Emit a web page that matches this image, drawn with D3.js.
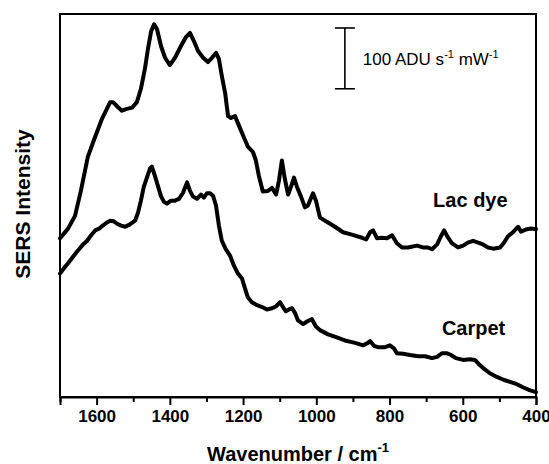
<!DOCTYPE html>
<html>
<head>
<meta charset="utf-8">
<script src="https://cdn.jsdelivr.net/npm/d3@7/dist/d3.min.js"></script>
<style>
  html, body { margin: 0; padding: 0; background: #fff; }
  svg { display: block; }
  text { font-family: "Liberation Sans", Arial, Helvetica, sans-serif; fill: #000; }
</style>
</head>
<body>
<svg id="chart" width="549" height="464"></svg>
<script>
// Wavenumber (cm-1) and SERS intensity (ADU s-1 mW-1, arbitrary offset)
const lacWavenumber = [1700,1678,1659,1643,1624,1604,1585,1563,1555,1542,1531,1517,1503,1490,1479,1468,1460,1451,1443,1435,1424,1413,1400,1386,1370,1356,1345,1334,1323,1309,1296,1285,1274,1266,1258,1249,1241,1233,1222,1211,1200,1187,1173,1165,1157,1146,1132,1121,1110,1102,1094,1086,1077,1069,1061,1053,1042,1031,1023,1009,1001,990,968,949,927,903,875,864,853,845,834,821,807,793,780,766,750,725,709,695,684,670,660,651,640,630,613,599,586,572,558,545,531,517,498,487,477,463,455,449,441,433,425,414,400];
const lacIntensity = [261,277,298,339,395,428,458,485,485,477,471,474,476,485,507,540,572,602,613,605,577,558,546,558,577,592,599,585,569,558,551,558,566,556,528,500,462,459,462,446,430,412,403,389,364,338,339,344,333,356,389,359,333,346,361,346,330,312,315,335,323,295,287,280,271,267,262,259,271,274,261,262,261,266,253,246,246,249,246,246,243,251,264,274,262,253,246,249,254,257,254,251,246,244,246,254,264,271,276,280,272,274,276,277,276];

const carpetWavenumber = [1700,1689,1678,1664,1651,1637,1626,1615,1604,1593,1583,1572,1563,1553,1544,1533,1522,1509,1495,1487,1479,1471,1462,1454,1449,1441,1432,1424,1416,1408,1397,1386,1375,1364,1353,1345,1337,1326,1315,1307,1299,1290,1282,1274,1266,1258,1247,1236,1225,1214,1203,1195,1187,1176,1162,1148,1135,1121,1110,1099,1091,1083,1075,1066,1058,1050,1036,1023,1012,1001,990,968,944,922,894,872,859,853,842,832,812,799,788,780,763,744,722,703,684,670,657,643,632,619,599,580,567,556,545,526,507,487,471,452,436,416,400];
const carpetIntensity = [203,212,220,231,241,251,257,266,274,277,282,287,290,289,285,282,280,284,290,303,323,346,362,376,379,364,346,330,321,318,323,323,326,336,353,339,330,326,333,328,335,335,331,315,282,257,243,233,216,203,195,179,164,156,151,148,144,146,149,156,148,141,144,146,138,126,120,125,128,116,110,103,98,93,89,85,89,92,84,82,82,85,80,72,71,69,67,67,64,66,72,72,69,64,61,62,61,54,48,39,33,28,25,21,16,11,8];

const xTicks = [1600,1400,1200,1000,800,600,400];
const xMinorTicks = [1700,1500,1300,1100,900,700,500];
const seriesLabels = ["Lac dye", "Carpet"];
const scaleBarText = "100 ADU s";
const scaleBarValue = 100;

const W = 549, H = 464;
const mLeft = 60, mRight = 536, mTop = 14, mBottom = 397;

const svg = d3.select("#chart");
const x = d3.scaleLinear().domain([1700, 400]).range([mLeft, mRight]);
const y = d3.scaleLinear().domain([0, 630]).range([mBottom, mTop]);

// frame
svg.append("rect")
  .attr("x", mLeft).attr("y", mTop)
  .attr("width", mRight - mLeft).attr("height", mBottom - mTop)
  .attr("fill", "none").attr("stroke", "#000").attr("stroke-width", 2);

// x axis
const xAxis = d3.axisBottom(x).tickValues(xTicks).tickSize(8).tickPadding(5).tickFormat(d3.format("d"));
const gx = svg.append("g").attr("transform", `translate(0,${mBottom})`).call(xAxis);
gx.select(".domain").attr("stroke-width", 2);
gx.selectAll(".tick line").attr("stroke-width", 2);
gx.selectAll(".tick text")
  .style("font-size", "17px").style("font-weight", "bold")
  .style("font-family", "'Liberation Sans', Arial, sans-serif");
const gxm = svg.append("g").attr("transform", `translate(0,${mBottom})`)
  .call(d3.axisBottom(x).tickValues(xMinorTicks).tickSize(5).tickFormat(""));
gxm.select(".domain").remove();
gxm.selectAll(".tick line").attr("stroke-width", 2);

// curves
const line = d3.line().x(d => x(d[0])).y(d => y(d[1]));
const lacData = lacWavenumber.map((w, i) => [w, lacIntensity[i]]);
const carpetData = carpetWavenumber.map((w, i) => [w, carpetIntensity[i]]);
[lacData, carpetData].forEach(data => {
  svg.append("path").datum(data)
    .attr("d", line)
    .attr("fill", "none").attr("stroke", "#000")
    .attr("stroke-width", 4)
    .attr("stroke-linejoin", "round").attr("stroke-linecap", "round");
});

// series labels
svg.append("text").attr("x", x(681)).attr("y", y(313))
  .style("font-size", "20px").style("font-weight", "bold").text(seriesLabels[0]);
svg.append("text").attr("x", x(657)).attr("y", y(102))
  .style("font-size", "20px").style("font-weight", "bold").text(seriesLabels[1]);

// scale bar
const barW = 922, barLow = 507;
const bx = x(barW), by0 = y(barLow), by1 = y(barLow + scaleBarValue);
const sb = svg.append("g").attr("stroke", "#000").attr("stroke-width", 1.6);
sb.append("line").attr("x1", bx).attr("x2", bx).attr("y1", by0).attr("y2", by1);
sb.append("line").attr("x1", bx - 10).attr("x2", bx + 10).attr("y1", by0).attr("y2", by0);
sb.append("line").attr("x1", bx - 10).attr("x2", bx + 10).attr("y1", by1).attr("y2", by1);
const st = svg.append("text").attr("x", bx + 18).attr("y", (by0 + by1) / 2 + 7)
  .style("font-size", "17px");
st.append("tspan").text(scaleBarText);
st.append("tspan").attr("dy", -7).style("font-size", "11px").text("-1");
st.append("tspan").attr("dy", 7).text(" mW");
st.append("tspan").attr("dy", -7).style("font-size", "11px").text("-1");

// axis titles
const xt = svg.append("text").attr("x", (mLeft + mRight) / 2).attr("y", 461)
  .attr("text-anchor", "middle").style("font-size", "20px").style("font-weight", "bold");
xt.append("tspan").text("Wavenumber / cm");
xt.append("tspan").attr("dy", -9).style("font-size", "13px").text("-1");

svg.append("text")
  .attr("transform", `translate(30,204) rotate(-90)`)
  .attr("text-anchor", "middle").style("font-size", "21px").style("font-weight", "bold")
  .text("SERS Intensity");
</script>
</body>
</html>
